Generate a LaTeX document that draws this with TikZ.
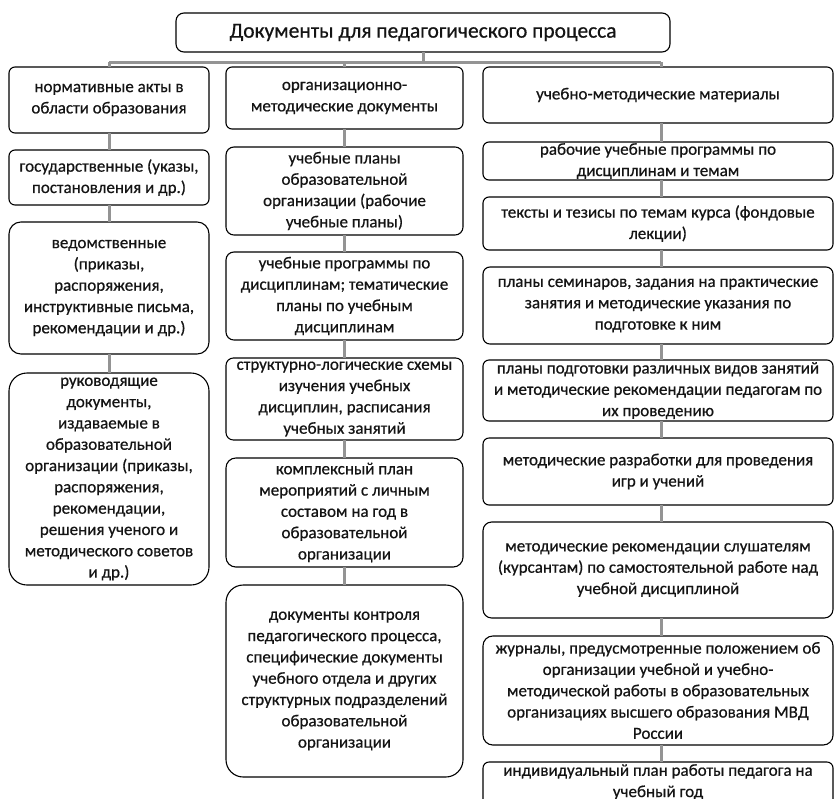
\documentclass[tikz,border=0pt]{standalone}
\usepackage{fontspec}
\setmainfont{Carlito}
\newfontfamily\boxfont{Carlito}[FakeBold=0.6]
\usetikzlibrary{calc}
\tikzset{
  box/.style={draw=black, line width=1.1pt, fill=white, inner sep=0pt, outer sep=0pt},
  txt/.style={align=center, inner sep=0pt, text=black!92, font=\boxfont\fontsize{17}{21.3}\selectfont},
  conn/.style={draw=black!42, line width=3pt}
}
\newcommand\bx[6]{%
  \pgfmathsetmacro\bw{#4-#2}\pgfmathsetmacro\bh{#5-#3}%
  \pgfmathsetmacro\br{max(6,0.09*min(\bw,\bh))}%
  \node[box, rounded corners=\br pt, minimum width=\bw pt, minimum height=\bh pt] (#1) at ({(#2+#4)/2},{(#3+#5)/2}) {};
  \node[txt] (#1t) at (#1.center) {#6};
}
\begin{document}
\begin{tikzpicture}[x=1pt, y=-1pt]
\useasboundingbox (0,0) rectangle (834,798);
\clip (0,0) rectangle (834,798);
\fill[white] (0,0) rectangle (834,798);
\coordinate (rc) at (661,0);
\coordinate (busy) at (0,62);
% title
\node[box, rounded corners=8pt, minimum width=494pt, minimum height=39pt] (top) at (423,32.5) {};
\node[txt, font=\boxfont\fontsize{21.5}{25}\selectfont] (topt) at (top.center) {Документы для педагогического процесса};

% left column
\bx{L1}{9}{67}{209}{133}{нормативные акты в\\области образования}
\bx{L2}{9}{150}{209}{205}{государственные (указы,\\постановления и др.)}
\bx{L3}{9}{222}{209}{354}{ведомственные\\(приказы,\\распоряжения,\\инструктивные письма,\\рекомендации и др.)}
\bx{L4}{9}{373}{209}{585}{руководящие\\документы,\\издаваемые в\\образовательной\\организации (приказы,\\распоряжения,\\рекомендации,\\решения ученого и\\методического советов\\и др.)}

% middle column
\bx{M1}{226}{67}{463}{129}{организационно-\\методические документы}
\bx{M2}{226}{147}{463}{235}{учебные планы\\образовательной\\организации (рабочие\\учебные планы)}
\bx{M3}{226}{252}{463}{340}{учебные программы по\\дисциплинам; тематические\\планы по учебным\\дисциплинам}
\bx{M4}{226}{358}{463}{440}{структурно-логические схемы\\изучения учебных\\дисциплин, расписания\\учебных занятий}
\bx{M5}{226}{458}{463}{567}{комплексный план\\мероприятий с личным\\составом на год в\\образовательной\\организации}
\bx{M6}{226}{585}{463}{777}{документы контроля\\педагогического процесса,\\специфические документы\\учебного отдела и других\\структурных подразделений\\образовательной\\организации}

% right column
\bx{R0}{483}{67}{833}{123}{учебно-методические материалы}
\bx{R1}{483}{142}{833}{180}{рабочие учебные программы по\\дисциплинам и темам}
\bx{R2}{483}{197}{833}{250}{тексты и тезисы по темам курса (фондовые\\лекции)}
\bx{R3}{483}{267}{833}{344}{планы семинаров, задания на практические\\занятия и методические указания по\\подготовке к ним}
\bx{R4}{483}{360}{833}{421}{планы подготовки различных видов занятий\\и методические рекомендации педагогам по\\их проведению}
\bx{R5}{483}{438}{833}{505}{методические разработки для проведения\\игр и учений}
\bx{R6}{483}{522}{833}{618}{методические рекомендации слушателям\\(курсантам) по самостоятельной работе над\\учебной дисциплиной}
\bx{R7}{483}{636}{833}{745}{журналы, предусмотренные положением об\\организации учебной и учебно-\\методической работы в образовательных\\организациях высшего образования МВД\\России}
\node[box, rounded corners=6pt, minimum width=350pt, minimum height=56pt] (R8) at (658,790) {};
\node[txt] (R8t) at (658,782) {индивидуальный план работы педагога на\\учебный год};

% connectors
\draw[conn] (top.south) -- (top.south |- busy);
\draw[conn] (L1.north |- busy) -- (rc |- busy);
\draw[conn] (L1.north |- busy) -- (L1.north);
\draw[conn] (M1.north |- busy) -- (M1.north);
\draw[conn] (rc |- busy) -- (R0.north -| rc);
\draw[conn] (L1.south) -- (L2.north);
\draw[conn] (L2.south) -- (L3.north);
\draw[conn] (L3.south) -- (L4.north);
\draw[conn] (M1.south) -- (M2.north);
\draw[conn] (M2.south) -- (M3.north);
\draw[conn] (M3.south) -- (M4.north);
\draw[conn] (M4.south) -- (M5.north);
\draw[conn] (M5.south) -- (M6.north);
\draw[conn] (R0.south -| rc) -- (R1.north -| rc);
\draw[conn] (R1.south -| rc) -- (R2.north -| rc);
\draw[conn] (R2.south -| rc) -- (R3.north -| rc);
\draw[conn] (R3.south -| rc) -- (R4.north -| rc);
\draw[conn] (R4.south -| rc) -- (R5.north -| rc);
\draw[conn] (R5.south -| rc) -- (R6.north -| rc);
\draw[conn] (R6.south -| rc) -- (R7.north -| rc);
\draw[conn] (R7.south -| rc) -- (R8.north -| rc);
\end{tikzpicture}
\end{document}
